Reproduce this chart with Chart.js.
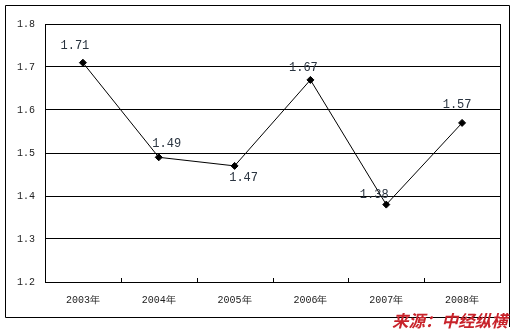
<!DOCTYPE html>
<html>
<head>
<meta charset="utf-8">
<script src="https://cdn.jsdelivr.net/npm/chart.js@4/dist/chart.umd.min.js"></script>
<style>
  html, body { margin: 0; padding: 0; background: #fff; }
  #wrap { position: relative; width: 517px; height: 333px; }
  #source {
    position: absolute; left: 392px; top: 309px;
    font-family: "Noto Sans CJK SC", sans-serif; font-weight: bold; font-style: italic;
    font-size: 16.5px; line-height: 22px; color: #c8232b; white-space: nowrap;
  }
</style>
</head>
<body>
<div id="wrap">
  <canvas id="c" width="517" height="333"></canvas>
  <div id="source">来源：中经纵横</div>
</div>
<script>
const categories = ['2003年', '2004年', '2005年', '2006年', '2007年', '2008年'];
const values = [1.71, 1.49, 1.47, 1.67, 1.38, 1.57];
const valueLabels = ['1.71', '1.49', '1.47', '1.67', '1.38', '1.57'];
const yTickLabels = ['1.2', '1.3', '1.4', '1.5', '1.6', '1.7', '1.8'];
// label offsets (style only) relative to each point
const labelOffsets = [[-8, -17], [8, -13], [9, 12], [-7, -12], [-12, -10], [-5, -18]];

const framePlugin = {
  id: 'frame',
  beforeDraw(chart) {
    const ctx = chart.ctx;
    ctx.save();
    ctx.fillStyle = '#fff';
    ctx.fillRect(0, 0, chart.width, chart.height);
    ctx.strokeStyle = '#000';
    ctx.lineWidth = 1;
    ctx.beginPath();
    ctx.moveTo(5.5, 5.5); ctx.lineTo(509.5, 5.5); ctx.lineTo(509.5, 327);
    ctx.moveTo(5.5, 5.5); ctx.lineTo(5.5, 317.5); ctx.lineTo(509.5, 317.5);
    ctx.stroke();
    ctx.restore();
  },
  afterDatasetsDraw(chart) {
    const ctx = chart.ctx;
    const a = chart.chartArea;
    const xs = chart.scales.x;
    ctx.save();
    ctx.strokeStyle = '#000';
    ctx.lineWidth = 1;
    // plot border
    ctx.strokeRect(Math.round(a.left) + 0.5, Math.round(a.top) + 0.5,
                   Math.round(a.right - a.left), Math.round(a.bottom - a.top));
    // inward tick marks at category boundaries
    ctx.beginPath();
    for (let i = 1; i < categories.length; i++) {
      const x = Math.round((xs.getPixelForValue(i - 1) + xs.getPixelForValue(i)) / 2) + 0.5;
      ctx.moveTo(x, a.bottom);
      ctx.lineTo(x, a.bottom - 4);
    }
    ctx.stroke();
    // data labels
    const meta = chart.getDatasetMeta(0);
    ctx.font = '12px "Liberation Mono", monospace';
    ctx.fillStyle = '#2a3440';
    ctx.textAlign = 'center';
    ctx.textBaseline = 'middle';
    meta.data.forEach((pt, i) => {
      ctx.fillText(valueLabels[i], pt.x + labelOffsets[i][0], pt.y + labelOffsets[i][1]);
    });
    ctx.restore();
  }
};

new Chart(document.getElementById('c'), {
  type: 'line',
  data: {
    labels: categories,
    datasets: [{
      data: values,
      borderColor: '#000',
      borderWidth: 1,
      pointStyle: 'rectRot',
      pointRadius: 3.5,
      pointBackgroundColor: '#000',
      pointBorderColor: '#000',
      tension: 0,
      fill: false
    }]
  },
  options: {
    responsive: false,
    animation: false,
    devicePixelRatio: 1,
    layout: { padding: { left: 5, right: 17, top: 24, bottom: 15 } },
    plugins: { legend: { display: false }, tooltip: { enabled: false } },
    scales: {
      x: {
        offset: true,
        grid: { display: false, drawTicks: false },
        border: { display: false },
        ticks: { color: '#222', font: { family: '"Liberation Mono", monospace', size: 10 }, padding: 12, maxRotation: 0 },
        afterFit(s) { s.height = 36; }
      },
      y: {
        min: 1.2, max: 1.8,
        grid: { color: '#000', lineWidth: 1, drawTicks: false },
        border: { display: false },
        ticks: {
          stepSize: 0.1,
          color: '#222',
          font: { family: '"Liberation Mono", monospace', size: 10 },
          padding: 10,
          callback: (v, i) => yTickLabels[i]
        },
        afterFit(s) { s.width = 40; }
      }
    }
  },
  plugins: [framePlugin]
});
</script>
</body>
</html>
